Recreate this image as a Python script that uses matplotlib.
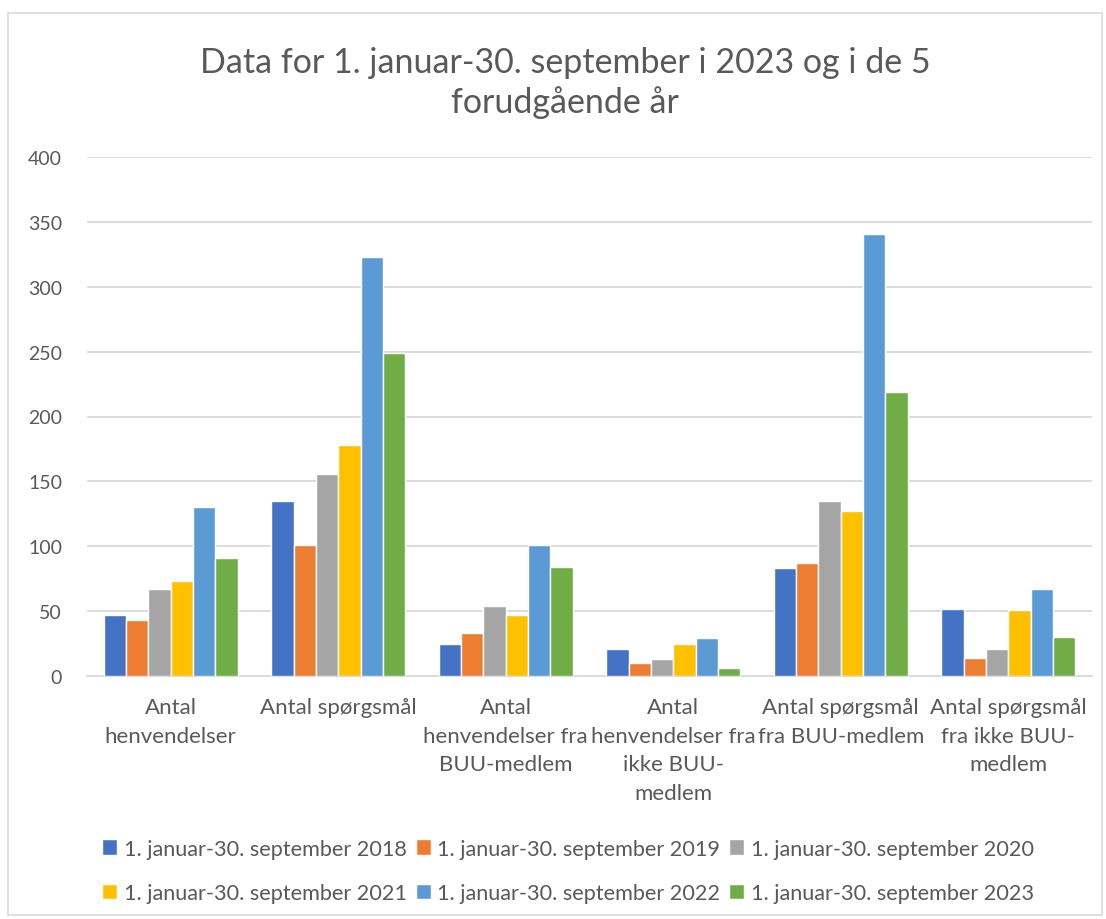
import matplotlib.pyplot as plt
import numpy as np
from matplotlib.patches import Rectangle

FONT = ["Lato", "DejaVu Sans"]
TEXT_GREY = "#595959"
GRID_GREY = "#d9d9d9"

categories = [
    "Antal\nhenvendelser",
    "Antal spørgsmål",
    "Antal\nhenvendelser fra\nBUU-medlem",
    "Antal\nhenvendelser fra\nikke BUU-\nmedlem",
    "Antal spørgsmål\nfra BUU-medlem",
    "Antal spørgsmål\nfra ikke BUU-\nmedlem",
]
series_labels = [
    "1. januar-30. september 2018",
    "1. januar-30. september 2019",
    "1. januar-30. september 2020",
    "1. januar-30. september 2021",
    "1. januar-30. september 2022",
    "1. januar-30. september 2023",
]
values_2018 = [47, 135, 25, 21, 83, 52]
values_2019 = [43, 101, 33, 10, 87, 14]
values_2020 = [67, 156, 54, 13, 135, 21]
values_2021 = [73, 178, 47, 25, 127, 51]
values_2022 = [130, 323, 101, 29, 341, 67]
values_2023 = [91, 249, 84, 6, 219, 30]
colors = ["#4472C4", "#ED7D31", "#A5A5A5", "#FFC000", "#5B9BD5", "#70AD47"]
y_ticks = [0, 50, 100, 150, 200, 250, 300, 350, 400]
title = "Data for 1. januar-30. september i 2023 og i de 5\nforudgående år"

plt.rcParams["font.family"] = FONT

fig = plt.figure(figsize=(11.06, 9.2), dpi=100)
ax = fig.add_axes([87 / 1106, 1 - 677 / 920, (1092 - 87) / 1106, (677 - 158) / 920])

# light frame around the whole chart, like the Excel chart area
fig.patches.append(Rectangle((8 / 1106, 4 / 920), 1094 / 1106, 902 / 920,
                             transform=fig.transFigure, fill=False,
                             edgecolor=GRID_GREY, linewidth=1.2))

all_series = [values_2018, values_2019, values_2020, values_2021, values_2022, values_2023]
x = np.arange(len(categories))
pitch = 0.133
handles = []
for i, (vals, col, lab) in enumerate(zip(all_series, colors, series_labels)):
    offs = (i - 2.5) * pitch
    b = ax.bar(x + offs, vals, width=pitch, color=col, edgecolor="white",
               linewidth=1.0, label=lab, zorder=3)
    handles.append(b)

ax.set_xlim(-0.5, len(categories) - 0.5)
ax.set_ylim(0, 400)
ax.set_yticks(y_ticks)
ax.yaxis.grid(True, color=GRID_GREY, linewidth=1.3, zorder=0)
ax.set_axisbelow(True)
for s in ["top", "right", "left"]:
    ax.spines[s].set_visible(False)
ax.spines["bottom"].set_color(GRID_GREY)
ax.spines["bottom"].set_linewidth(1.3)
ax.tick_params(axis="both", length=0, colors=TEXT_GREY)
ax.tick_params(axis="y", pad=18, labelsize=14)
ax.set_xticks(x)
ax.set_xticklabels(categories, linespacing=1.55, va="top")
ax.tick_params(axis="x", pad=15, labelsize=16)

fig.text(565 / 1106, 1 - 83 / 920, title, ha="center", va="center",
         fontsize=24.5, color=TEXT_GREY, linespacing=1.29)

# legend: Excel fills rows first, matplotlib fills columns, so reorder
order = [0, 3, 1, 4, 2, 5]
leg = fig.legend([handles[k] for k in order], [series_labels[k] for k in order],
                 loc="center", bbox_to_anchor=(568 / 1106, 1 - 872 / 920), ncol=3,
                 frameon=False, fontsize=15.6, handlelength=0.7, handleheight=0.7,
                 handletextpad=0.3, columnspacing=0.4, labelspacing=1.15,
                 labelcolor=TEXT_GREY)

fig.savefig("out.png", dpi=100)
